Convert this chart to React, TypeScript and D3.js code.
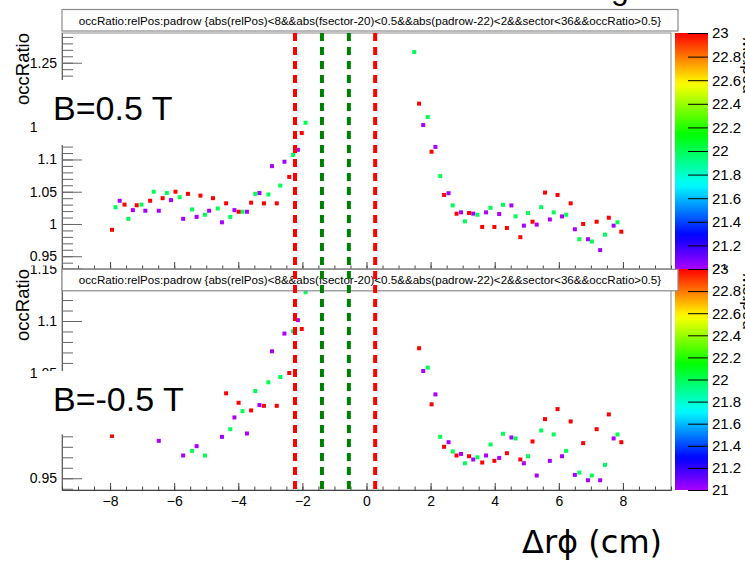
import { useEffect, useRef } from 'react';
import * as d3 from 'd3';

// padrow values (colour axis)
const paletteTicks = [21, 21.2, 21.4, 21.6, 21.8, 22, 22.2, 22.4, 22.6, 22.8, 23];
const xTicks = [-8, -6, -4, -2, 0, 2, 4, 6, 8];
const topYTicks = [0.95, 1, 1.05, 1.1, 1.15, 1.2, 1.25];
const botYTicks = [0.95, 1, 1.05, 1.1, 1.15];
const cutLinesRed = [-2.23, 0.27];
const cutLinesGreen = [-1.39, -0.55];

// top panel, B=0.5 T
const top21X = [-7.70, -7.29, -6.90, -6.48, -6.10, -5.72, -5.30, -4.91, -4.51, -4.12, -3.73, -3.34, -2.95, -2.56, -2.14,
  1.77, 2.15, 2.56, 2.95, 3.33, 3.73, 4.14, 4.52, 4.91, 5.31, 5.72, 6.10, 6.50, 6.91, 7.29, 7.71];
const top21Y = [1.036, 1.0215, 1.0205, 1.0205, 1.037, 1.008, 1.011, 1.0205, 1.0026, 1.0215, 1.019, 1.048, 1.0897, 1.0965, 1.115,
  1.1534, 1.1195, 1.0477, 1.018, 1.016, 1.018, 1.0154, 1.0288, 0.9974, 0.999, 1.007, 1.0118, 0.9918, 0.9764, 0.9595, 0.9974];
const top22X = [-7.83, -7.43, -7.02, -6.64, -6.23, -5.83, -5.44, -5.04, -4.64, -4.25, -3.87, -3.47, -3.06, -2.69, -2.29, -1.90,
  1.49, 1.91, 2.30, 2.69, 3.07, 3.46, 3.87, 4.26, 4.65, 5.04, 5.45, 5.84, 6.23, 6.64, 7.03, 7.44, 7.83];
const top22Y = [1.026, 1.008, 1.030, 1.050, 1.048, 1.0415, 1.0226, 1.0143, 1.024, 1.011, 1.019, 1.0467, 1.0457, 1.0595, 1.107, 1.157,
  1.2666, 1.1657, 1.0743, 1.0288, 1.004, 1.0143, 1.025, 1.0297, 1.0118, 1.017, 1.026, 1.018, 1.0143, 0.9764, 0.9728, 0.9835, 1.0026];
const top23X = [-7.94, -7.55, -7.17, -6.75, -6.36, -5.96, -5.57, -5.18, -4.79, -4.38, -3.99, -3.60, -3.20, -2.80, -2.41, -2.02,
  1.64, 2.03, 2.42, 2.81, 3.20, 3.61, 3.99, 4.38, 4.80, 5.18, 5.57, 5.96, 6.37, 6.76, 7.18, 7.56, 7.95];
const top23Y = [0.991, 1.030, 1.029, 1.036, 1.040, 1.050, 1.0467, 1.044, 1.040, 1.032, 1.019, 1.033, 1.032, 1.032, 1.073, 1.141,
  1.1866, 1.112, 1.045, 1.0159, 1.017, 0.9954, 0.9954, 0.9938, 0.9795, 1.0035, 1.0487, 1.045, 1.032, 1.0, 1.0035, 1.0097, 0.988];

// bottom panel, B=-0.5 T
const bot21X = [-6.48, -5.72, -5.30, -4.51, -4.12, -3.73, -3.34, -2.95, -2.56, -2.14,
  1.77, 2.15, 2.56, 2.95, 3.33, 3.73, 4.14, 4.52, 4.91, 5.31, 5.72, 6.10, 6.50, 6.91, 7.29, 7.71];
const bot21Y = [0.9857, 0.9717, 0.9806, 0.9895, 1.008, 0.9927, 1.0198, 1.0711, 1.088, 1.1008,
  1.0523, 1.030, 0.9844, 0.9732, 0.9679, 0.9717, 0.9694, 0.9889, 0.9643, 0.9526, 0.9666, 0.971, 0.9532, 0.9481, 0.9481, 0.988];
const bot22X = [-5.44, -5.04, -4.25, -3.87, -3.47, -3.06, -2.69, -2.29, -1.90,
  1.91, 2.30, 2.69, 3.07, 3.46, 3.87, 4.26, 4.65, 5.04, 5.45, 5.84, 6.23, 6.64, 7.03, 7.44, 7.83];
const bot22Y = [0.9761, 0.9717, 0.9968, 1.014, 1.0332, 1.0415, 1.0466, 1.0902, 1.1275,
  1.0555, 0.9895, 0.9755, 0.9643, 0.970, 0.9822, 0.9924, 0.988, 0.971, 0.9956, 0.9918, 0.9761, 0.9554, 0.9526, 0.9627, 0.9918];
const bot23X = [-7.94, -4.38, -3.99, -3.60, -3.20, -2.80, -2.41, -2.02,
  1.64, 2.03, 2.42, 2.81, 3.20, 3.61, 3.99, 4.38, 4.80, 5.18, 5.57, 5.96, 6.37, 6.76, 7.18, 7.56, 7.95];
const bot23Y = [0.9904, 1.031, 1.022, 1.0147, 1.0191, 1.0191, 1.0504, 1.0924,
  1.074, 1.0205, 0.98, 0.9717, 0.971, 0.965, 0.9666, 0.9739, 0.9679, 0.9851, 1.0064, 1.016, 1.0042, 0.9835, 0.9968, 1.0109, 0.9844];

const TITLE = 'occRatio:relPos:padrow {abs(relPos)<8&&abs(fsector-20)<0.5&&abs(padrow-22)<2&&sector<36&&occRatio>0.5}';
const FONT = '"Liberation Sans", Arial, Helvetica, sans-serif';
const W = 745, H = 563;
const X0 = 62, X1 = 671;
const PX0 = 675, PX1 = 708;

const padColor = (v: number) => d3.hsl(280 - 140 * (v - 21), 1, 0.5).formatHex();

function drawPanel(svg: any, x: any, p: any) {
  const g = svg.append('g').attr('clip-path', `url(#${p.clip})`);
  const y = p.y;

  g.append('rect').attr('x', X0).attr('y', p.top).attr('width', X1 - X0).attr('height', p.bottom - p.top)
    .attr('fill', 'none').attr('stroke', '#8c8c8c');

  p.series.forEach((s: any) => {
    g.append('g').selectAll('rect').data(s.x).join('rect')
      .attr('x', (d: number) => x(d) - 2)
      .attr('y', (_: number, i: number) => y(s.y[i]) - 2)
      .attr('width', 4).attr('height', 4)
      .attr('fill', padColor(s.row));
  });

  // y axis
  const [lo, hi] = y.domain();
  const minor = d3.range(Math.ceil(lo * 100), Math.floor(hi * 100) + 1).map((k) => k / 100);
  g.append('g').attr('transform', `translate(${X0},0)`).attr('color', '#666')
    .call(d3.axisLeft(y).tickValues(minor).tickSize(-11).tickSizeOuter(0).tickFormat(() => ''));
  g.append('g').attr('transform', `translate(${X0},0)`).attr('color', '#666')
    .call(d3.axisLeft(y).tickValues(p.yTicks).tickSize(-20).tickSizeOuter(0).tickPadding(5).tickFormat((d: any) => String(d)))
    .call((a: any) => a.selectAll('text').attr('fill', '#000').attr('font-size', 14).attr('font-family', FONT));

  // x axis
  const xMinor = d3.range(-19, 20).map((k) => k / 2);
  g.append('g').attr('transform', `translate(0,${p.bottom})`).attr('color', '#444')
    .call(d3.axisBottom(x).tickValues(xMinor).tickSize(-3.5).tickSizeOuter(0).tickFormat(() => ''));
  g.append('g').attr('transform', `translate(0,${p.bottom})`).attr('color', '#444')
    .call(d3.axisBottom(x).tickValues(xTicks).tickSize(-7).tickSizeOuter(0).tickPadding(6)
      .tickFormat((d: any) => (p.xLabels ? (d < 0 ? '\u2212' + Math.abs(d) : String(d)) : '')))
    .call((a: any) => a.selectAll('text').attr('fill', '#000').attr('font-size', 14).attr('font-family', FONT));

  // palette
  const gid = p.clip + '-grad';
  const grad = svg.select('defs').append('linearGradient').attr('id', gid)
    .attr('x1', 0).attr('y1', 1).attr('x2', 0).attr('y2', 0);
  d3.range(0, 41).forEach((k) => {
    const v = 21 + k * 0.05;
    grad.append('stop').attr('offset', `${k * 2.5}%`).attr('stop-color', padColor(v));
  });
  g.append('rect').attr('x', PX0).attr('y', p.top).attr('width', PX1 - PX0).attr('height', p.bottom - p.top)
    .attr('fill', `url(#${gid})`);
  const pScale = d3.scaleLinear().domain([21, 23]).range([p.bottom, p.top]);
  g.append('g').attr('transform', `translate(${PX1},0)`).attr('color', '#000')
    .call(d3.axisRight(pScale).tickValues(paletteTicks).tickSize(-20).tickSizeOuter(0).tickPadding(4)
      .tickFormat((d: any) => String(d)))
    .call((a: any) => a.select('.domain').remove())
    .call((a: any) => a.selectAll('text').attr('font-size', 15).attr('font-family', FONT));
  g.append('text').attr('transform', `translate(752,${p.top + 5}) rotate(-90)`)
    .attr('text-anchor', 'end').attr('font-family', FONT).attr('font-size', 17).text('padrow');

  // title box
  g.append('rect').attr('x', X0).attr('y', p.titleY).attr('width', 616).attr('height', 21.5)
    .attr('fill', '#fff').attr('stroke', '#8a8a8a').attr('stroke-width', 1.2);
  g.append('text').attr('x', 370).attr('y', p.titleY + 15).attr('text-anchor', 'middle')
    .attr('font-family', FONT).attr('font-size', 11.6).text(TITLE);

  // y title
  g.append('text').attr('transform', `translate(29,${p.top}) rotate(-90)`)
    .attr('text-anchor', 'end').attr('font-family', FONT).attr('font-size', 18.5).text('occRatio');

  // field label with white box
  g.append('rect').attr('x', 37).attr('y', p.boxY).attr('width', 168).attr('height', p.boxH).attr('fill', '#fff');
  g.append('text').attr('x', 53).attr('y', p.boxY + 40).attr('font-family', FONT).attr('font-size', 34).text(p.label);
}

export default function App() {
  const ref = useRef<SVGSVGElement>(null);

  useEffect(() => {
    const svg = d3.select(ref.current);
    svg.selectAll('*').remove();
    const defs = svg.append('defs');
    defs.append('clipPath').attr('id', 'clipTop').append('rect').attr('x', 0).attr('y', 0).attr('width', W).attr('height', 270);
    defs.append('clipPath').attr('id', 'clipBot').append('rect').attr('x', 0).attr('y', 265.5).attr('width', W).attr('height', H - 265.5);

    svg.append('rect').attr('width', W).attr('height', H).attr('fill', '#fff');

    const x = d3.scaleLinear().domain([-9.5, 9.5]).range([X0, X1]);

    drawPanel(svg, x, {
      clip: 'clipTop', top: 33, bottom: 269,
      y: d3.scaleLinear().domain([0.9302, 1.2961]).range([269, 33]),
      yTicks: topYTicks, xLabels: false, titleY: 9.5, boxY: 80, boxH: 65, label: 'B=0.5 T',
      series: [
        { row: 21, x: top21X, y: top21Y },
        { row: 22, x: top22X, y: top22Y },
        { row: 23, x: top23X, y: top23Y },
      ],
    });
    drawPanel(svg, x, {
      clip: 'clipBot', top: 269, bottom: 490,
      y: d3.scaleLinear().domain([0.9388, 1.1496]).range([490, 269]),
      yTicks: botYTicks, xLabels: true, titleY: 269.3, boxY: 371, boxH: 63.5, label: 'B=-0.5 T',
      series: [
        { row: 21, x: bot21X, y: bot21Y },
        { row: 22, x: bot22X, y: bot22Y },
        { row: 23, x: bot23X, y: bot23Y },
      ],
    });

    // cut lines across both pads
    const cuts = svg.append('g');
    cutLinesRed.forEach((v) => cuts.append('line').attr('x1', x(v)).attr('x2', x(v)).attr('y1', 33).attr('y2', 490)
      .attr('stroke', '#ff0000').attr('stroke-width', 4).attr('stroke-dasharray', '8,6'));
    cutLinesGreen.forEach((v) => cuts.append('line').attr('x1', x(v)).attr('x2', x(v)).attr('y1', 33).attr('y2', 490)
      .attr('stroke', '#008000').attr('stroke-width', 4).attr('stroke-dasharray', '8,6'));

    svg.append('text').attr('x', 522).attr('y', 553).attr('font-family', '"DejaVu Sans", sans-serif')
      .attr('font-size', 32).text('\u0394r\u03d5 (cm)');
    svg.append('text').attr('x', 611).attr('y', -1).attr('font-family', FONT).attr('font-size', 32).text('g');
  }, []);

  return (
    <svg ref={ref} width={W} height={H} style={{ position: 'absolute', left: 0, top: 0 }} />
  );
}
